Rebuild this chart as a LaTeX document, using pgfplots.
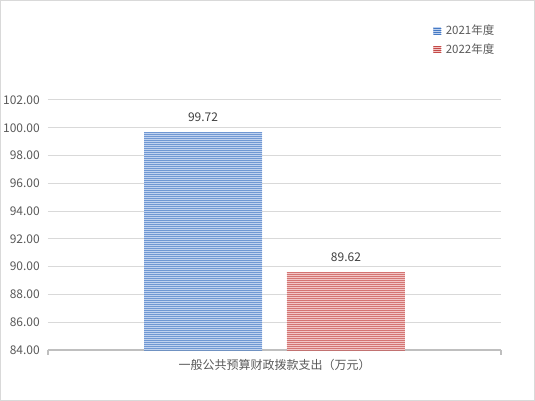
\documentclass[border=0pt]{standalone}
\usepackage{pgfplots}
\pgfplotsset{compat=1.18}
\usepackage{fontspec}
\setmainfont{Noto Sans CJK SC}
\usetikzlibrary{patterns}
\definecolor{gridgray}{HTML}{D9D9D9}
\definecolor{axisgray}{HTML}{BFBFBF}
\definecolor{labelgray}{HTML}{595959}
\definecolor{valgray}{HTML}{404040}
\definecolor{bluedark}{RGB}{70,122,196}
\definecolor{bluelight}{RGB}{192,210,239}
\definecolor{reddark}{RGB}{196,74,72}
\definecolor{redlight}{RGB}{242,198,198}
% wide tile, so no seams across the bar
\pgfdeclarepatternformonly{hstripes}{\pgfpointorigin}{\pgfpoint{600bp}{2bp}}{\pgfpoint{600bp}{2bp}}{
  \pgfpathrectangle{\pgfpointorigin}{\pgfpoint{600bp}{1bp}}
  \pgfusepath{fill}
}
\pgfplotsset{
  mylegend/.style={legend image code/.code={\fill[##1] (0bp,-3.5bp) rectangle (8bp,3.5bp);}},
}

\begin{document}
\begin{tikzpicture}
\fontsize{12bp}{14bp}\selectfont
\useasboundingbox (-48bp,-51bp) rectangle (487bp,350bp);
\draw[gridgray, line width=1.2bp] (-47.4bp,-50.4bp) rectangle (486.4bp,349.4bp);
\begin{axis}[
  scale only axis, width=453bp, height=250bp,
  ybar, bar width=0.2605,
  xmin=0, xmax=1, ymin=84, ymax=102,
  axis x line*=bottom, axis y line*=left,
  y axis line style={draw=none},
  x axis line style={draw=axisgray, line width=2bp},
  xtick={0.5}, xticklabels={一般公共预算财政拨款支出（万元）},
  xtick style={draw=none}, ytick style={draw=none},
  xticklabel style={anchor=center, yshift=-11bp, text=labelgray},
  ytick={84,86,...,102},
  yticklabel={\pgfmathprintnumber[fixed,fixed zerofill,precision=2]{\tick}},
  yticklabel style={anchor=east, inner sep=0pt, xshift=-8bp, text=labelgray},
  /pgf/number format/assume math mode=true,
  ymajorgrids, grid style={draw=gridgray, line width=1bp},
  nodes near coords={\pgfmathprintnumber[fixed,fixed zerofill,precision=2]{\pgfplotspointmeta}},
  nodes near coords style={text=valgray, anchor=center, yshift=14.5bp},
  legend style={draw=none, fill=none, at={(0.850,1.30)}, anchor=north west,
    inner sep=0pt, row sep=6.7bp, column sep=4.5bp,
    nodes={inner sep=0pt, text=labelgray},
    font=\fontsize{11.5bp}{13bp}\selectfont},
  legend cell align=left,
]
\addplot+[draw=none, fill=bluelight, bar shift=-0.1578, mylegend,
  postaction={pattern=hstripes, pattern color=bluedark}]
  coordinates {(0.5,99.72)};
\addlegendentry{2021年度}
\addplot+[draw=none, fill=redlight, bar shift=0.1578, mylegend,
  postaction={pattern=hstripes, pattern color=reddark}]
  coordinates {(0.5,89.62)};
\addlegendentry{2022年度}
\end{axis}
\draw[axisgray, line width=1.5bp] (0bp,0bp) -- (0bp,-4.5bp);
\draw[axisgray, line width=1.5bp] (453bp,0bp) -- (453bp,-4.5bp);
\end{tikzpicture}
\end{document}
